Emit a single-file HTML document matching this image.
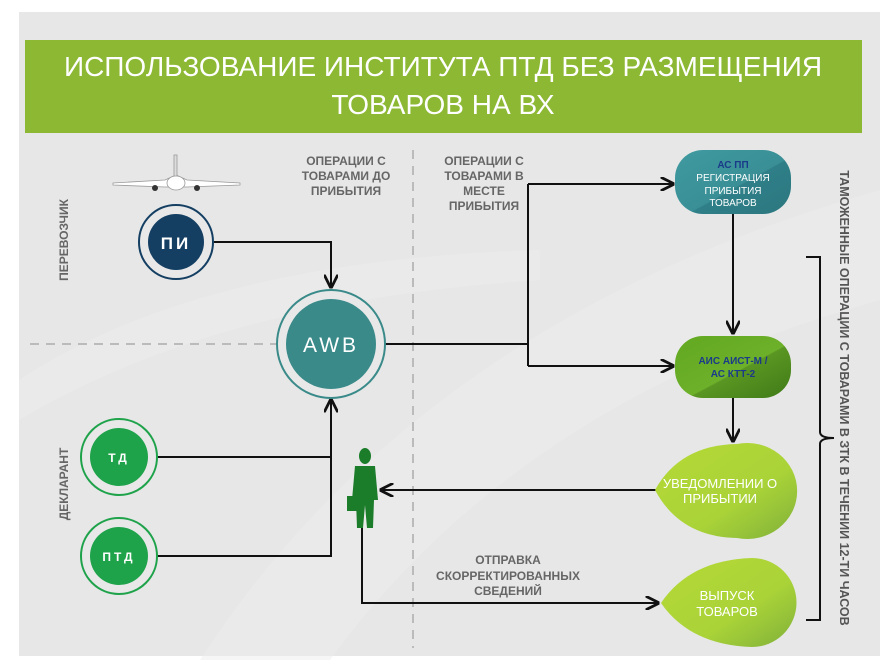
<!DOCTYPE html>
<html><head><meta charset="utf-8"><style>
html,body{margin:0;padding:0;background:#fff;}
svg{display:block;font-family:"Liberation Sans",sans-serif;}
</style></head><body>
<svg width="886" height="664" viewBox="0 0 886 664" xmlns="http://www.w3.org/2000/svg">
<defs>
<marker id="a" viewBox="0 0 10 10" refX="9" refY="5" markerWidth="7" markerHeight="7" orient="auto-start-reverse"><path d="M0,0 L10,5 L0,10" fill="none" stroke="#111" stroke-width="2"/></marker>
<linearGradient id="tg" x1="0" y1="0" x2="1" y2="1"><stop offset="0" stop-color="#3f9aa0"/><stop offset="0.55" stop-color="#3a8f96"/><stop offset="0.56" stop-color="#2f7f88"/><stop offset="1" stop-color="#2c7780"/></linearGradient>
<linearGradient id="gg" x1="0" y1="0" x2="1" y2="1"><stop offset="0" stop-color="#62a820"/><stop offset="0.55" stop-color="#6db02a"/><stop offset="0.56" stop-color="#5a9622"/><stop offset="1" stop-color="#3f7a18"/></linearGradient>
<linearGradient id="lg" x1="0" y1="0" x2="1" y2="1"><stop offset="0" stop-color="#b5d936"/><stop offset="0.6" stop-color="#aad338"/><stop offset="1" stop-color="#7fb03a"/></linearGradient>
</defs>
<rect x="19" y="12" width="861" height="644" fill="#e6e7e6"/>
<path d="M200,660 Q420,320 880,190 L880,300 Q520,400 330,660Z" fill="#ededed" opacity="0.5"/>
<path d="M19,380 Q200,260 540,250 L540,280 Q220,300 19,420Z" fill="#f0f0f0" opacity="0.4"/>
<rect x="25" y="40" width="837" height="93" fill="#8cb833"/>
<text x="443" y="76" font-size="28" fill="#fff" text-anchor="middle">ИСПОЛЬЗОВАНИЕ ИНСТИТУТА ПТД БЕЗ РАЗМЕЩЕНИЯ</text>
<text x="443" y="114" font-size="28" fill="#fff" text-anchor="middle">ТОВАРОВ НА ВХ</text>

<line x1="413" y1="150" x2="413" y2="648" stroke="#bbb" stroke-width="2" stroke-dasharray="9,7"/>
<line x1="30" y1="344" x2="276" y2="344" stroke="#bbb" stroke-width="2" stroke-dasharray="9,7"/>

<g font-size="12" font-weight="bold" fill="#666" text-anchor="middle">
<text x="346" y="165">ОПЕРАЦИИ С</text><text x="346" y="180">ТОВАРАМИ ДО</text><text x="346" y="195">ПРИБЫТИЯ</text>
<text x="484" y="165">ОПЕРАЦИИ С</text><text x="484" y="180">ТОВАРАМИ В</text><text x="484" y="195">МЕСТЕ</text><text x="484" y="210">ПРИБЫТИЯ</text>
<text x="508" y="564">ОТПРАВКА</text><text x="508" y="580">СКОРРЕКТИРОВАННЫХ</text><text x="508" y="595">СВЕДЕНИЙ</text>
<text transform="translate(68,240) rotate(-90)">ПЕРЕВОЗЧИК</text>
<text transform="translate(68,484) rotate(-90)">ДЕКЛАРАНТ</text>
</g>
<text transform="translate(840,398) rotate(90)" font-size="12.5" font-weight="bold" fill="#555" text-anchor="middle">ТАМОЖЕННЫЕ ОПЕРАЦИИ С ТОВАРАМИ  В ЗТК В ТЕЧЕНИИ 12-ТИ ЧАСОВ</text>

<!-- plane -->
<g fill="#fff" stroke="#999" stroke-width="0.8">
<path d="M113,183 L165,180 L176,175 L187,180 L240,183 L240,185 L187,187 L165,187 L113,185Z"/>
<rect x="174" y="155" width="3" height="22" fill="#ddd"/>
<ellipse cx="176" cy="183" rx="9" ry="7"/>
</g>
<circle cx="155" cy="188" r="3" fill="#333"/><circle cx="197" cy="188" r="3" fill="#333"/>

<g fill="none" stroke="#111" stroke-width="2">
<path d="M214,242 H331 V287" marker-end="url(#a)"/>
<path d="M385,344 H528"/>
<path d="M528,184 V366"/>
<path d="M528,184 H673" marker-end="url(#a)"/>
<path d="M528,366 H673" marker-end="url(#a)"/>
<path d="M157,457 H331"/>
<path d="M157,556 H331 V400" marker-end="url(#a)"/>
<path d="M733,214 V333" marker-end="url(#a)"/>
<path d="M733,398 V441" marker-end="url(#a)"/>
<path d="M656,490 H381" marker-end="url(#a)"/>
<path d="M362,528 V603 H658" marker-end="url(#a)"/>
<path d="M806,257 H820 V432 Q820,438 834,438 Q820,438 820,444 V620 H806"/>
</g>

<circle cx="176" cy="242" r="37" fill="#e8e8e8" stroke="#143f63" stroke-width="2"/>
<circle cx="176" cy="242" r="28" fill="#143f63"/>
<text x="176" y="249" font-size="17" font-weight="bold" fill="#fff" text-anchor="middle" letter-spacing="3">ПИ</text>

<circle cx="331" cy="344" r="54" fill="#e8e8e8" stroke="#3a8a8a" stroke-width="2"/>
<circle cx="331" cy="344" r="45" fill="#3a8a8a"/>
<text x="331" y="352" font-size="21" fill="#fff" text-anchor="middle" letter-spacing="3">AWB</text>

<circle cx="119" cy="457" r="38" fill="#e8e8e8" stroke="#1ea24a" stroke-width="2"/>
<circle cx="119" cy="457" r="29" fill="#1ea24a"/>
<text x="119" y="462" font-size="12" font-weight="bold" fill="#fff" text-anchor="middle" letter-spacing="3">ТД</text>
<circle cx="119" cy="556" r="38" fill="#e8e8e8" stroke="#1ea24a" stroke-width="2"/>
<circle cx="119" cy="556" r="29" fill="#1ea24a"/>
<text x="119" y="561" font-size="12" font-weight="bold" fill="#fff" text-anchor="middle" letter-spacing="3">ПТД</text>

<rect x="675" y="150" width="116" height="64" rx="28" fill="url(#tg)"/>
<g font-size="10" fill="#fff" text-anchor="middle">
<text x="733" y="168" fill="#1a3a8a" font-weight="bold">АС ПП</text>
<text x="733" y="181">РЕГИСТРАЦИЯ</text><text x="733" y="194">ПРИБЫТИЯ</text><text x="733" y="206">ТОВАРОВ</text>
</g>
<rect x="675" y="336" width="116" height="62" rx="28" fill="url(#gg)"/>
<text x="733" y="364" font-size="10" font-weight="bold" fill="#1a3a8a" text-anchor="middle">АИС АИСТ-М /</text>
<text x="733" y="377" font-size="10" font-weight="bold" fill="#1a3a8a" text-anchor="middle">АС КТТ-2</text>

<path d="M655,490 Q680,445 737,444 A50,48 0 1 1 737,538 Q680,537 655,490Z" fill="url(#lg)"/>
<text x="720" y="488" font-size="13" fill="#fff" text-anchor="middle">УВЕДОМЛЕНИИ О</text>
<text x="720" y="503" font-size="13" fill="#fff" text-anchor="middle">ПРИБЫТИИ</text>
<path d="M661,603 Q690,560 752,558 A43,43 0 1 1 752,647 Q690,645 661,603Z" fill="url(#lg)"/>
<text x="727" y="600" font-size="13" fill="#fff" text-anchor="middle">ВЫПУСК</text>
<text x="727" y="616" font-size="13" fill="#fff" text-anchor="middle">ТОВАРОВ</text>

<!-- person -->
<g fill="#1b7c2a">
<ellipse cx="365" cy="456" rx="6" ry="8"/>
<path d="M355,466 H375 L378,500 H374 L373,528 H367 L365,505 L363,528 H357 L356,500 H352Z"/>
<rect x="347" y="496" width="11" height="15"/>
</g>
</svg>
</body></html>
